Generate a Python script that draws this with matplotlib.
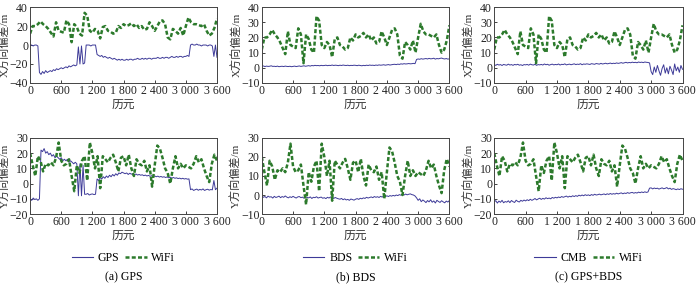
import numpy as np
import matplotlib
matplotlib.use('Agg')
import matplotlib.pyplot as plt
from matplotlib.lines import Line2D

plt.rcParams['font.family'] = ['Liberation Serif', 'Noto Sans CJK SC']
plt.rcParams['axes.unicode_minus'] = True

# WiFi series (every 50 epochs)
wifi_ep = np.arange(0, 3601, 50)
wifi_x = [12, 20, 20, 22, 25, 22, 20, 17, 13, 9, 24, 15, 14, 13, 26, 22, 3, 22, 19, 12,
          10, 34, 31, 15, 13, 17, 15, 7, 19, 20, 15, 14, 12, 13, 20, 18, 22, 20, 21, 23,
          20, 22, 18, 20, 16, 17, 24, 20, 15, 20, 25, 26, 22, 8, 6, 17, 15, 12, 18, 10,
          20, 29, 24, 22, 22, 21, 20, 22, 15, 10, 12, 18, 28]
wifi_y = [20, 12, 5, 18, 15, 8, 13, 12, 14, 12, 17, 27, 15, 12, 13, 16, 5, -5, 12, 7,
          15, 18, 2, 27, 20, 10, 18, -3, 18, 16, 14, 17, 19, 14, 8, 17, 18, 12, 19, 10,
          5, 16, 13, 12, 15, 8, 12, -2, 12, 25, 23, 17, 10, 7, 0, 10, 18, 10, 13, 10,
          12, 11, 10, 13, 18, 14, 16, 10, 5, 1, 13, 19, 15]

# GNSS series (every 30 epochs)
ep = np.arange(0, 3601, 30)
gps_x = ([0, 0, -1, 0, 0, -1, -29]
         + [-31, -28, -30, -27, -29, -28, -27, -28, -26, -27, -25, -26, -25, -24, -25, -24,
            -23, -24, -22, -23, -22, -21, -22, -21]
         + [-2, -20, -1, -20, -19, 0, 0, 0, -1, 0, 0, 0, -10]
         + [-11, -12, -11, -13, -12, -13, -14, -13, -14, -15, -14, -15, -16, -15, -16, -15, -16]
         + [-16, -15, -16, -15, -15, -16, -15, -15, -14, -15, -15, -14, -15, -14, -15, -14,
            -14, -15, -14, -14]
         + [-14, -13, -14, -14, -13, -14, -13, -13, -14, -13, -12, -13, -13, -12, -13, -12,
            -12, -13, -12, -12, -11, -12]
         + [0, 1, 0, 0, 1, 0, 0, -1, 0, 0, 0, -1, 0, 0, -1, -12, 0, -13])
bds_x = ([1.0, 1.2, 0.8, 1.1, 0.9, 1.0, 1.3, 0.9, 1.0, 0.8, 1.1, 0.7, 0.9, 1.0, 0.8, 1.1, 0.9, 0.8, 1.0, 0.7]
         + [0.9, 1.1, 0.8, 1.0, 1.2, 0.9, 1.1, 1.3, 1.0, 1.2, 1.4, 1.1, 1.5, 1.3, 1.6, 1.4, 1.5, 1.3, 1.6, 1.4]
         + [1.5, 1.7, 1.4, 1.6, 1.5, 1.8, 1.5, 1.7, 1.6, 1.4, 1.7, 1.5, 1.8, 1.6, 1.5, 1.7, 1.4, 1.6, 1.5, 1.7]
         + [1.6, 1.4, 1.7, 1.5, 1.3, 1.6, 1.4, 1.7, 1.5, 1.8, 1.6, 1.7, 1.5, 1.8, 1.6, 1.9, 1.7, 1.8, 2.0, 1.7]
         + [1.9, 2.1, 1.8, 2.0, 2.2, 2.3, 2.1, 2.4, 2.2, 2.6, 2.4, 2.7, 2.5, 2.6, 2.8, 2.6, 2.7, 2.9, 2.7]
         + [5.5]
         + [5.8, 5.6, 6.0, 5.7, 5.9, 6.1, 5.8, 6.2, 5.9, 6.0, 6.3, 5.7, 6.1, 5.9, 6.2, 6.4, 6.0, 5.8, 6.1, 5.7, 5.9])
cmb_x = ([2.0, 1.6, 2.3, 1.8, 2.1, 1.5, 2.2, 1.9, 1.7, 2.4,
          1.8, 2.1, 1.6, 2.2, 1.9, 2.3, 1.7, 2.0, 1.5, 2.1,
          1.9, 2.2, 1.7, 2.4, 2.0, 1.8, 2.3, 1.6, 2.1, 1.9,
          2.2, 1.8, 2.5, 2.0, 2.3, 1.7, 2.1, 2.4, 1.9, 2.2,
          2.0, 2.5, 1.8, 2.3, 2.1, 2.6, 1.9, 2.2, 2.4, 2.0,
          2.3, 2.6, 2.1, 2.4, 2.2, 2.7, 2.0, 2.5, 2.3, 2.6,
          2.4, 2.2, 2.7, 2.5, 2.3, 2.8, 2.6, 2.4, 2.9, 2.5,
          2.7, 3.0, 2.6, 2.8, 3.1, 2.7, 3.0, 2.8, 3.2, 2.9,
          3.1, 3.4, 3.0, 3.3, 3.6, 3.2, 3.5, 3.3, 3.7, 3.4,
          3.6, 3.3, 3.8, 3.5, 3.7, 3.4, 3.8, 3.6, 3.5, 3.2]
         + [-2.5, -4.5, 0.5, -3.0, 1.5, -2.0, -5.0, -0.5, 2.0, -3.5,
            0.0, -4.0, 1.0, -1.5, -4.5, 2.5, -2.0, 0.5, -3.0, 1.5, -1.0])
gps_y = ([-10, -11, -9.5, -10.5, -10, -11, -10]
         + [22, 21, 23, 20, 21, 19, 20, 18, 19, 17, 18, 17, 16, 17, 15, 16, 15, 16, 14, 15,
            14, 13, 14, 13, -8, 13, -8, 12]
         + [-7, -7, -6.5, -7.5, -7, -6.8, -7.2, -7, 3]
         + [2, 4, 3, 4.5, 3.5, 5, 4, 5.5, 4.5, 6, 5, 6.5, 5.5, 7, 6.5, 7.5, 7]
         + [6.5, 7, 6, 6.8, 6.2, 6.5, 5.8, 6.3, 5.6, 6, 5.5, 5.8, 5.2, 5.6, 5, 5.4, 4.8, 5.2, 4.6, 5]
         + [4.5, 4.9, 4.3, 4.7, 4.2, 4.5, 4, 4.4, 3.8, 4.2, 3.6, 4, 3.5, 3.8, 3.3, 3.6, 3.1,
            3.5, 3, 3.3, 2.9, 3.1]
         + [-4, -3.5, -4.5, -4, -3.6, -4.4, -3.8, -4.2, -3.5, -4.5, -4, -3.7, -4.3, -3.9,
            -4.1, 2, -4, -3])
bds_y = ([-0.5, -1.2, -0.8, -1.5, -0.6, -1.1, -0.9, -1.6, -0.7, -1.3,
          -1.0, -0.6, -1.4, -0.8, -1.2, -0.5, -1.1, -1.5, -0.9, -1.3,
          -0.7, -1.2, -1.6, -1.0, -0.8, -1.4, -1.1, -1.7, -0.9, -1.3,
          -1.5, -1.0, -1.8, -1.2, -1.4, -0.9, -1.6, -1.3, -1.1, -1.7,
          -1.4, -1.9, -1.2, -1.6, -1.0, -1.5, -1.8, -1.3, -1.7, -2.0]
         + [-2.2, -1.8, -2.5, -2.0, -2.6, -2.3, -2.8, -2.1, -2.4, -2.7,
            -2.2, -1.9, -2.3, -1.7, -2.0, -1.5, -1.8, -1.2, -1.6, -1.3]
         + [-1.0, -1.4, -0.8, -1.2, -0.9, -1.3, -0.7, -1.1, -0.6, -0.9,
            -0.4, -0.8, -0.3, -0.6, -0.2, -0.5, 0.0, -0.3, 0.2, -0.1,
            0.3, 0.0, 0.5, 0.1, 0.4, 0.6, 0.2, 0.0, -0.5]
         + [-1.5, -2.8, -2.0, -3.5, -2.6, -3.2, -4.0, -2.9, -3.6, -2.5,
            -3.8, -3.1, -4.2, -2.8, -3.4, -3.9, -3.0, -3.6, -4.1, -3.2, -3.7, -2.9])
cmb_y = ([-12.0, -11.2, -12.8, -11.5, -12.3, -11.0, -12.6, -11.8, -12.2, -11.3,
          -12.5, -11.1, -11.9, -12.4, -10.9, -11.7, -12.1, -11.0, -11.6, -10.8,
          -11.4, -10.6, -11.2, -10.3, -11.0, -10.5, -9.8, -10.7, -10.1, -9.6,
          -10.4, -9.7, -10.2, -9.3, -9.9, -9.5, -10.0, -9.1, -9.6, -9.0,
          -9.4, -8.8, -9.2, -8.5, -9.0, -8.6, -8.2, -8.9, -8.3, -8.7,
          -8.0, -8.5, -7.9, -8.4, -7.6, -8.1, -7.5, -8.0, -7.3, -7.8,
          -7.4, -7.9, -7.2, -7.7, -7.0, -7.5, -7.3, -6.9, -7.4, -7.1,
          -6.8, -7.3, -6.7, -7.1, -6.5, -7.0, -6.6, -6.9, -6.3, -6.8,
          -6.4, -6.1, -6.7, -6.2, -6.5, -5.9, -6.4, -6.0, -5.8, -6.3,
          -5.9, -6.2, -5.6, -6.0, -5.5, -5.9, -5.4, -5.8, -5.5]
         + [-3.0, -2.8, -3.5, -2.9, -3.3, -3.0, -3.6, -3.2, -2.8, -3.4,
            -3.1, -2.6, -3.5, -3.0, -3.8, -3.3, -3.6, -4.0, -3.5, -3.9, -3.4, -3.7])

names = ['GPS', 'BDS', 'CMB']
captions = ['(a) GPS', '(b) BDS', '(c) GPS+BDS']
top_series = [gps_x, bds_x, cmb_x]
bot_series = [gps_y, bds_y, cmb_y]
top_ylim = [(-40, 40), (-10, 40), (-10, 40)]
top_yticks = [[-40, -20, 0, 20, 40], [-10, 0, 10, 20, 30, 40], [-10, 0, 10, 20, 30, 40]]
bot_ylim = [(-20, 30), (-10, 30), (-20, 30)]
bot_yticks = [[-20, -10, 0, 10, 20, 30], [-10, 0, 10, 20, 30], [-20, -10, 0, 10, 20, 30]]
xticks = [0, 600, 1200, 1800, 2400, 3000, 3600]
xticklabels = ['0', '600', '1 200', '1 800', '2 400', '3 000', '3 600']

blue = '#3d3a98'
green = '#2c7a2c'
lefts = [0.043, 0.374, 0.706]
widths = [0.267, 0.268, 0.269]

fig = plt.figure(figsize=(7, 2.85), dpi=100)


def style(ax, ylim, yticks, ylab):
    ax.set_xlim(0, 3600)
    ax.set_ylim(*ylim)
    ax.set_xticks(xticks)
    ax.set_xticklabels(xticklabels)
    ax.set_yticks(yticks)
    ax.tick_params(direction='in', length=2.5, width=0.6, labelsize=8.5, pad=1.5, colors='#222222')
    for s in ax.spines.values():
        s.set_linewidth(0.7)
        s.set_color('#444444')
    ax.set_xlabel('历元', fontsize=8.5, labelpad=1, color='#333333')
    ax.set_ylabel(ylab, fontsize=8, labelpad=0, color='#333333')


for i in range(3):
    ax = fig.add_axes([lefts[i], 0.709, widths[i], 0.266])
    ax.plot(ep, top_series[i], color=blue, lw=0.7)
    ax.plot(wifi_ep, wifi_x, color=green, lw=1.8, dashes=(1.6, 0.9))
    style(ax, top_ylim[i], top_yticks[i], 'X方向偏差/m')

    ax = fig.add_axes([lefts[i], 0.249, widths[i], 0.267])
    ax.plot(ep, bot_series[i], color=blue, lw=0.7)
    ax.plot(wifi_ep, wifi_y, color=green, lw=1.8, dashes=(1.6, 0.9))
    style(ax, bot_ylim[i], bot_yticks[i], 'Y方向偏差/m')
    handles = [Line2D([], [], color=blue, lw=0.8),
               Line2D([], [], color=green, lw=1.8, dashes=(1.6, 0.9))]
    ax.legend(handles, [names[i], 'WiFi'], loc='center', bbox_to_anchor=(0.5, -0.58),
              ncol=2, frameon=False, fontsize=8.5, handlelength=1.8, columnspacing=0.5,
              handletextpad=0.4, borderpad=0)
    ax.text(0.5, -0.83, captions[i], transform=ax.transAxes, ha='center', va='center', fontsize=8.5)

fig.savefig('out.png', dpi=100)
